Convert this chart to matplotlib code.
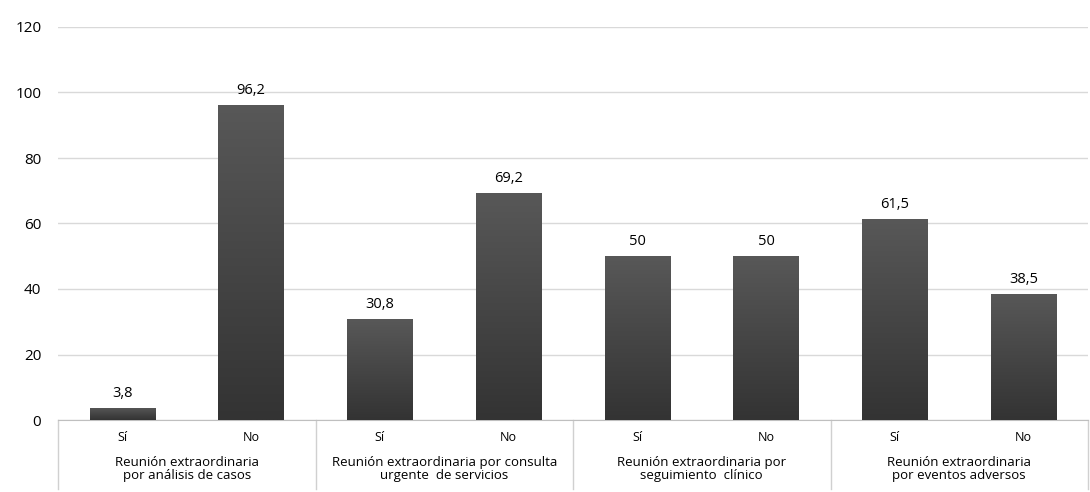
import numpy as np
import matplotlib.pyplot as plt
from matplotlib.colors import LinearSegmentedColormap
from matplotlib.transforms import blended_transform_factory

plt.rcParams['font.family'] = ['Open Sans', 'DejaVu Sans']

groups = ['Reunión extraordinaria\npor análisis de casos',
          'Reunión extraordinaria por consulta\nurgente  de servicios',
          'Reunión extraordinaria por\nseguimiento  clínico',
          'Reunión extraordinaria\npor eventos adversos']
answers = ['Sí', 'No']
values = [3.8, 96.2, 30.8, 69.2, 50, 50, 61.5, 38.5]
value_labels = ['3,8', '96,2', '30,8', '69,2', '50', '50', '61,5', '38,5']

fig = plt.figure(figsize=(10.9, 4.92), dpi=100)
ax = fig.add_axes([58/1090, 72/492, 1030/1090, 393/492])

x = np.arange(len(values))
bars = ax.bar(x, values, width=0.51, color='#444444', zorder=3)

# vertical gradient on each bar, lighter at the top
grad = np.linspace(0, 1, 256).reshape(-1, 1)
cmap = LinearSegmentedColormap.from_list('g', ['#585858', '#333333'])
for b in bars:
    x0, y0 = b.get_x(), b.get_y()
    w, h = b.get_width(), b.get_height()
    im = ax.imshow(grad, extent=[x0, x0 + w, y0, y0 + h], aspect='auto',
                   cmap=cmap, zorder=4, origin='upper')
    im.set_clip_path(b)

for xi, v, lab in zip(x, values, value_labels):
    ax.annotate(lab, (xi, v), xytext=(0, 5), textcoords='offset points',
                ha='center', va='bottom', fontsize=10.5, color='#000000', zorder=5)

ax.set_xlim(-0.5, len(values) - 0.5)
ax.set_ylim(0, 120)
ax.set_yticks(range(0, 121, 20))
ax.tick_params(axis='y', length=0, labelsize=11, pad=12, colors='#000000')
ax.yaxis.grid(True, color='#d9d9d9', linewidth=1, zorder=0)
ax.set_axisbelow(True)

ax.set_xticks(x)
ax.set_xticklabels(answers * len(groups), fontsize=9)
ax.tick_params(axis='x', length=0, pad=8)

for s in ['top', 'right', 'left']:
    ax.spines[s].set_visible(False)
ax.spines['bottom'].set_color('#bfbfbf')

tr = blended_transform_factory(ax.transData, ax.transAxes)
for i in range(len(groups) + 1):
    ax.plot([i * 2 - 0.5, i * 2 - 0.5], [0, -0.175], transform=tr,
            color='#d0d0d0', linewidth=1, clip_on=False)
for i, g in enumerate(groups):
    ax.text(i * 2 + 0.5, -0.092, g, transform=tr, ha='center', va='top',
            fontsize=9.5, linespacing=1.0, color='#000000')

fig.savefig('out.png', dpi=100)
